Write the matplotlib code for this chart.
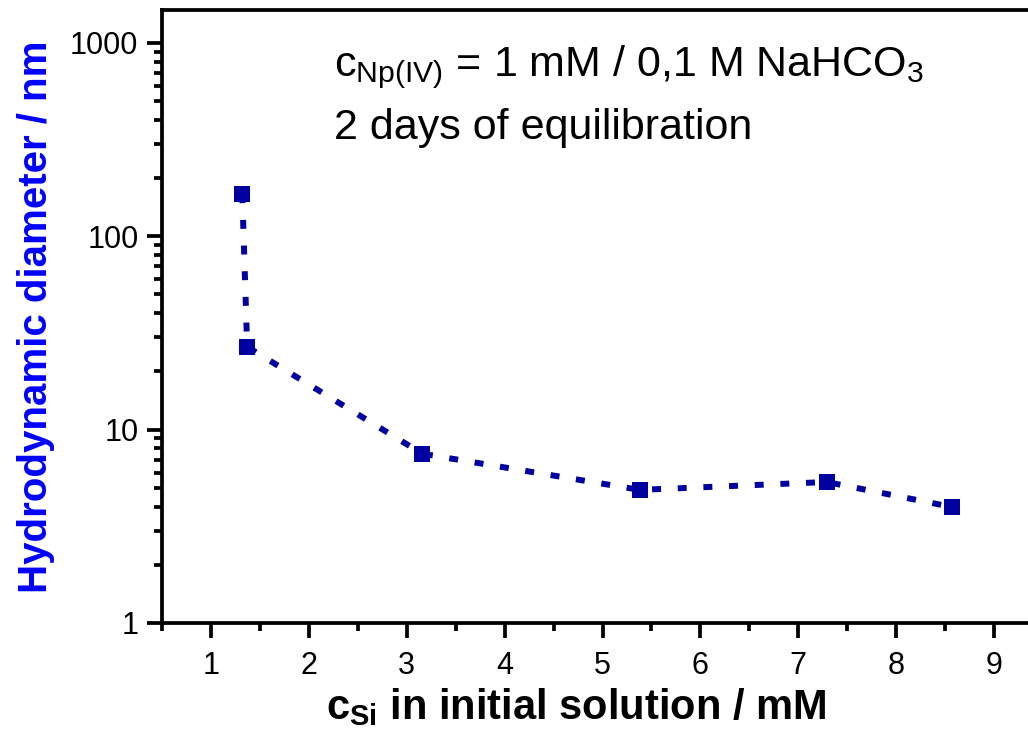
import matplotlib
matplotlib.use('Agg')
import matplotlib.pyplot as plt

# data
c_si = [1.32, 1.37, 3.16, 5.38, 7.29, 8.57]
diameter = [165, 26.8, 7.5, 4.88, 5.36, 3.98]

x_ticks = [1, 2, 3, 4, 5, 6, 7, 8, 9]
y_ticks = [1, 10, 100, 1000]
y_ticklabels = ['1', '10', '100', '1000']

plt.rcParams['font.family'] = ['Liberation Sans', 'DejaVu Sans']
plt.rcParams['mathtext.fontset'] = 'custom'
plt.rcParams['mathtext.rm'] = 'Liberation Sans'
plt.rcParams['mathtext.it'] = 'Liberation Sans:italic'
plt.rcParams['mathtext.bf'] = 'Liberation Sans:bold'

fig = plt.figure(figsize=(10.28, 7.35), dpi=100)
ax = fig.add_axes([0.1576, 0.1524, 0.857, 0.834])

ax.plot(c_si, diameter, color='#0000A0', linewidth=4.3,
        linestyle=(0, (1.5, 2.8)), dash_capstyle='butt',
        marker='s', markersize=12, markeredgewidth=0)

ax.set_yscale('log')
ax.set_xlim(0.5, 9.5)
ax.set_ylim(1, 1480)

ax.set_xticks(x_ticks)
ax.set_xticks([x + 0.5 for x in range(0, 10)], minor=True)
ax.set_yticks(y_ticks)
ax.set_yticklabels(y_ticklabels)

for side in ['left', 'bottom', 'top', 'right']:
    ax.spines[side].set_linewidth(2.7)
ax.tick_params(axis='both', which='major', length=11, width=2.7,
               labelsize=22, direction='out', pad=6)
ax.tick_params(axis='x', which='major', pad=9)
ax.tick_params(axis='both', which='minor', length=6, width=2.7,
               direction='out')
ax.tick_params(axis='y', which='minor', labelleft=False)

ax.set_xlabel(r'c$_{\mathbf{Si}}$ in initial solution / mM',
              fontsize=30, fontweight='bold', labelpad=4)
ax.xaxis.label.set_x(0.47)
ax.set_ylabel('Hydrodynamic diameter / nm', fontsize=29,
              fontweight='bold', color='#0000FF', labelpad=11)

# annotation, placed in pixel offsets from the axes top
ax.text(0.195, 1 - 66 / 613, r'c$_{\mathrm{Np(IV)}}$ = 1 mM / 0,1 M NaHCO$_3$',
        transform=ax.transAxes, fontsize=31, va='baseline')
ax.text(0.195, 1 - 129 / 613, '2 days of equilibration',
        transform=ax.transAxes, fontsize=31, va='baseline')

plt.savefig('out.png', dpi=100)
